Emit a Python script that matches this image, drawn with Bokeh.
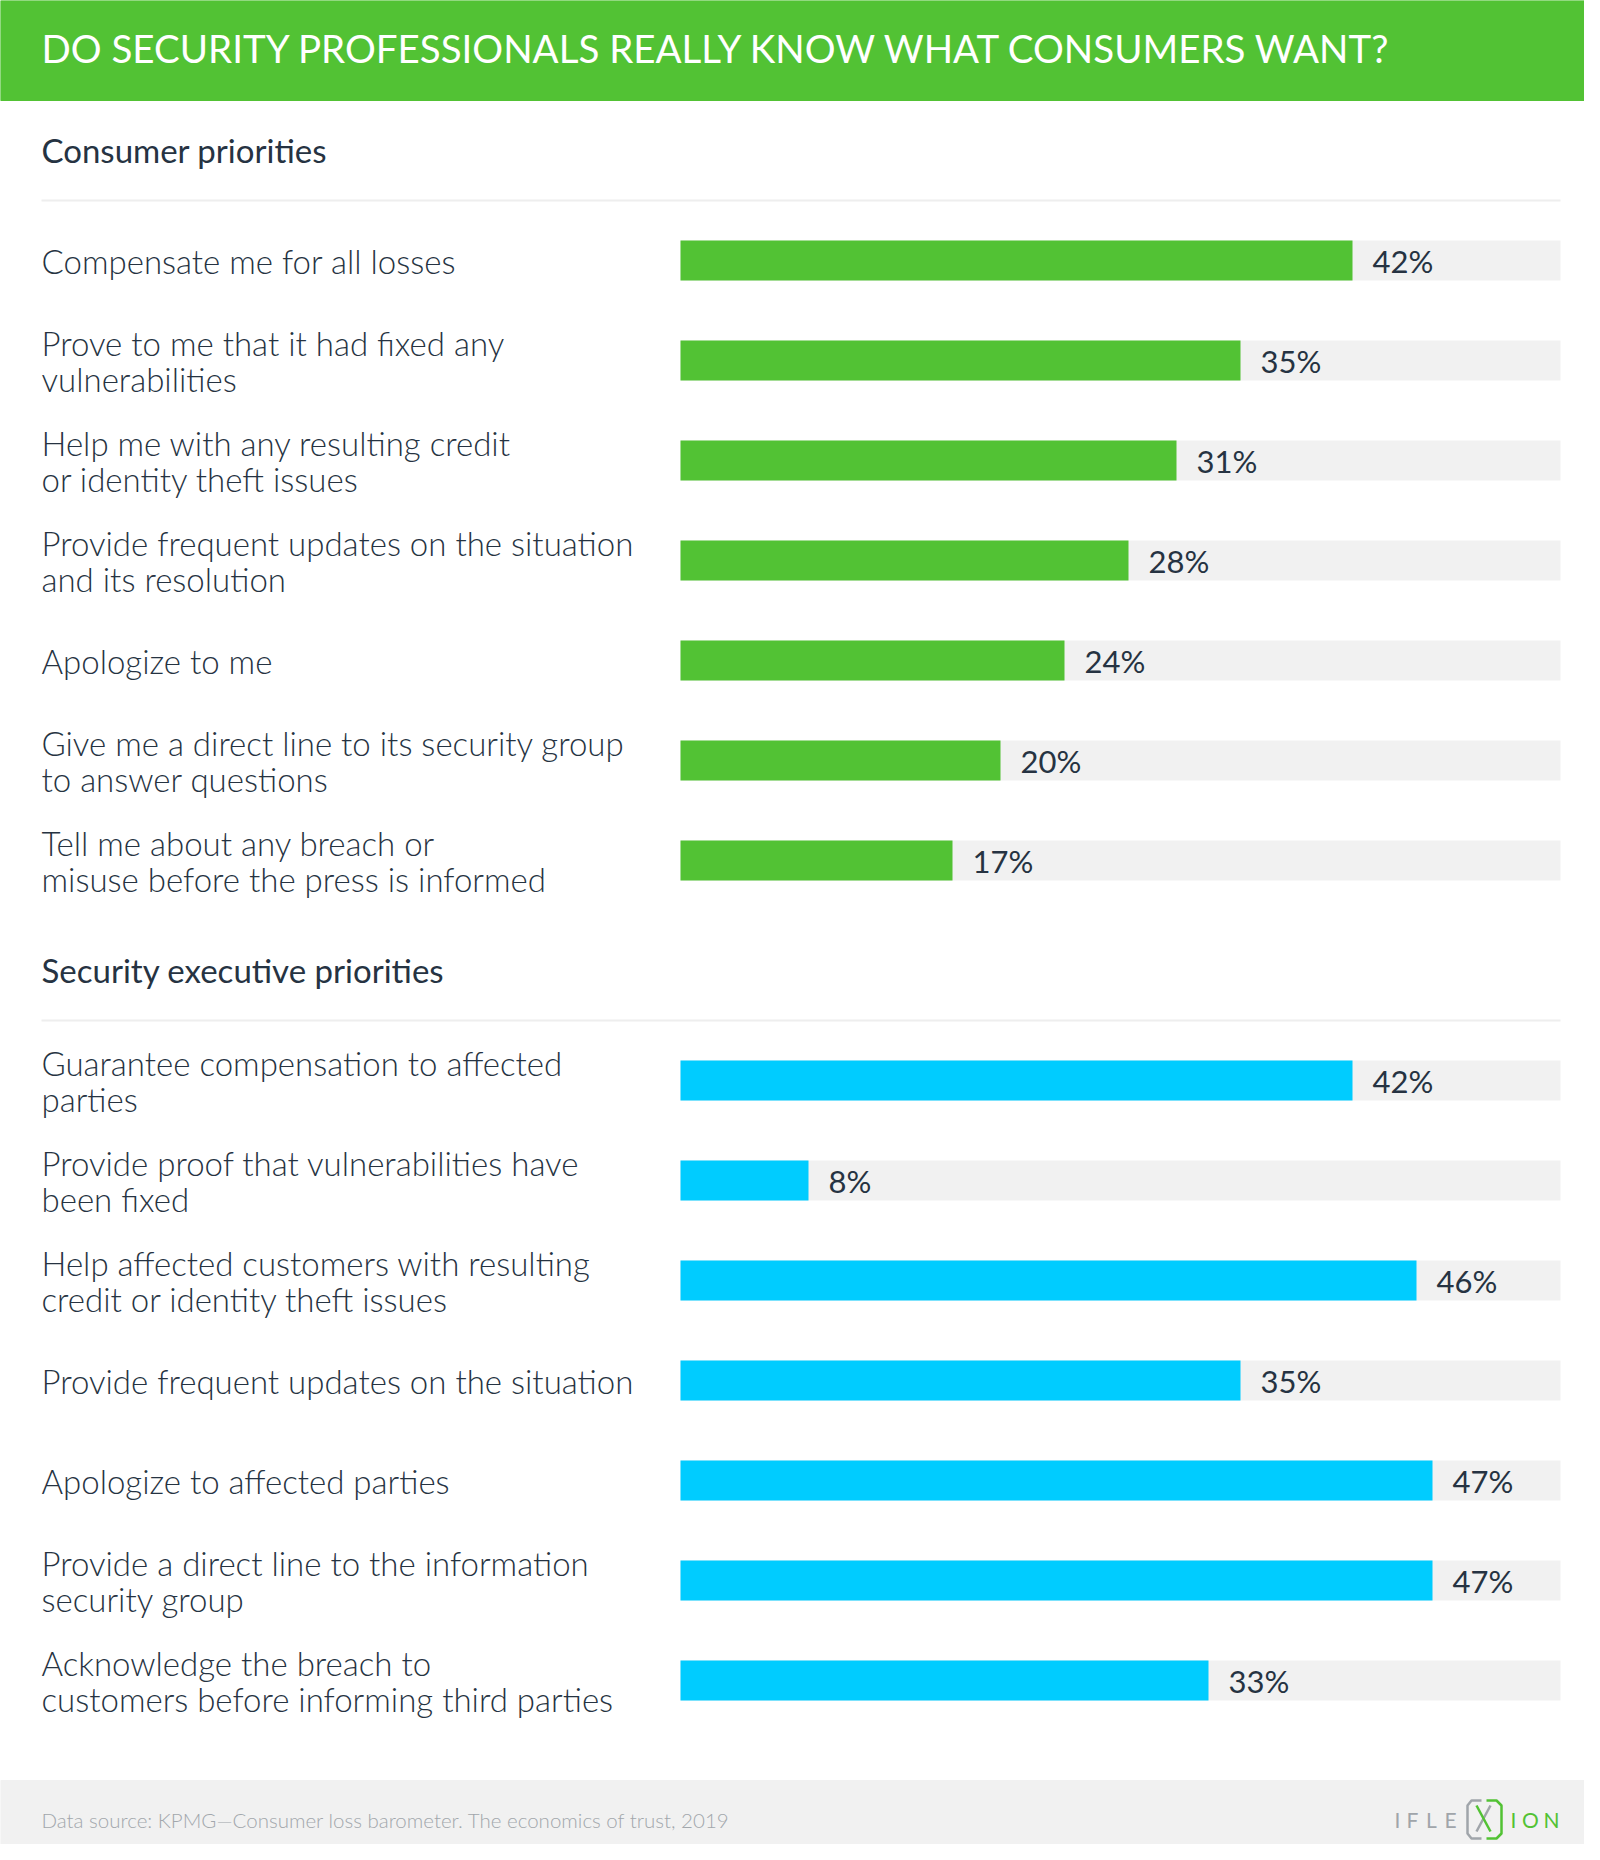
from bokeh.plotting import figure
from bokeh.models import Range1d
from bokeh.core.properties import value
from bokeh.embed import file_html
from bokeh.resources import INLINE

# ---------------- data ----------------
title = "DO SECURITY PROFESSIONALS REALLY KNOW WHAT CONSUMERS WANT?"

consumer_title = "Consumer priorities"
consumer_labels = [
    "Compensate me for all losses",
    "Prove to me that it had fixed any\nvulnerabilities",
    "Help me with any resulting credit\nor identity theft issues",
    "Provide frequent updates on the situation\nand its resolution",
    "Apologize to me",
    "Give me a direct line to its security group\nto answer questions",
    "Tell me about any breach or\nmisuse before the press is informed",
]
consumer_values = [42, 35, 31, 28, 24, 20, 17]

exec_title = "Security executive priorities"
exec_labels = [
    "Guarantee compensation to affected\nparties",
    "Provide proof that vulnerabilities have\nbeen fixed",
    "Help affected customers with resulting\ncredit or identity theft issues",
    "Provide frequent updates on the situation",
    "Apologize to affected parties",
    "Provide a direct line to the information\nsecurity group",
    "Acknowledge the breach to\ncustomers before informing third parties",
]
exec_values = [42, 8, 46, 35, 47, 47, 33]

scale_max = 55
source_note = "Data source: KPMG\u2014Consumer loss barometer. The economics of trust, 2019"
logo_left = "IFLE"
logo_right = "ION"

# ---------------- style ----------------
GREEN = "#52C234"
BLUE = "#00CCFF"
TRACK = "#F1F1F1"
TEXT = "#263342"
SEP = "#EEEEEE"
FOOT_BG = "#F1F1F1"
FOOT_TXT = "#A2A7AC"
LOGO_GRAY = "#A0A5AA"
FONT = "Lato"
LIGHT_FONT = "Lato Light"

W, H = 1584, 1844

p = figure(width=W, height=H,
           x_range=Range1d(-42.5, 56.5),   # percent scale: 0% at px 680, 16px per %
           y_range=Range1d(1844, 0),       # pixels, top to bottom
           output_backend="svg", toolbar_location=None,
           x_axis_location=None, y_axis_location=None,
           min_border=0, outline_line_color=None,
           background_fill_color="white", border_fill_color="white")
p.grid.visible = False
p.extra_x_ranges = {"px": Range1d(0, 1584)}

# header band
p.quad(left=[0], right=[1600], top=[0], bottom=[100], color=GREEN, x_range_name="px")
p.text(x=[41], y=[47], text=[title], x_range_name="px",
       text_font=value(FONT), text_font_size="38.5px", text_color="white",
       text_baseline="middle", text_align="left")

# footer band
p.quad(left=[0], right=[1600], top=[1780], bottom=[1860], color=FOOT_BG, x_range_name="px")
p.text(x=[41], y=[1819], text=[source_note], x_range_name="px",
       text_font=value(LIGHT_FONT), text_font_size="20.5px", text_color=FOOT_TXT,
       text_baseline="middle", text_align="left")


def section(head, labels, values, color, top):
    # section header and separator
    p.text(x=[41], y=[top - 71], text=[head], x_range_name="px",
           text_font=value(FONT), text_font_size="33px", text_color=TEXT,
           text_baseline="middle", text_align="left")
    p.line(x=[41, 1560], y=[top - 20, top - 20], x_range_name="px",
           line_color=SEP, line_width=2)
    ys = [top + 40 + 100 * i for i in range(len(values))]
    p.hbar(y=ys, left=0, right=[scale_max] * len(values), height=40,
           fill_color=TRACK, line_color=None)
    p.hbar(y=ys, left=0, right=values, height=40, fill_color=color, line_color=None)
    p.text(x=values, y=ys, text=[f"{v}%" for v in values], x_offset=20,
           text_font=value(FONT), text_font_size="31px", text_color=TEXT,
           text_baseline="middle", text_align="left")
    p.text(x=[41] * len(labels), y=ys, text=labels, x_range_name="px",
           text_font=value(LIGHT_FONT), text_font_size="33px", text_color=TEXT,
           text_baseline="middle", text_align="left", text_line_height=0.9)


section(consumer_title, consumer_labels, consumer_values, GREEN, 220)
section(exec_title, exec_labels, exec_values, BLUE, 1040)

# logo
left_x = [1397, 1412, 1431, 1450]
right_x = [1513, 1530, 1551]
p.text(x=left_x, y=[1819] * 4, text=list(logo_left), x_range_name="px",
       text_font=value(FONT), text_font_size="21px", text_color=LOGO_GRAY,
       text_baseline="middle", text_align="center")
p.text(x=right_x, y=[1819] * 3, text=list(logo_right), x_range_name="px",
       text_font=value(FONT), text_font_size="21px", text_color=GREEN,
       text_baseline="middle", text_align="center")
p.line(x=[1481, 1471, 1467, 1467, 1471, 1481], y=[1800, 1800, 1805, 1833, 1838, 1838],
       x_range_name="px", line_color=LOGO_GRAY, line_width=2.5)
p.line(x=[1486, 1496, 1501, 1501, 1496, 1486], y=[1800, 1800, 1805, 1833, 1838, 1838],
       x_range_name="px", line_color=GREEN, line_width=2.5)
p.line(x=[1490, 1476], y=[1805, 1831], x_range_name="px", line_color=LOGO_GRAY, line_width=2.5)
p.line(x=[1476, 1490], y=[1805, 1831], x_range_name="px", line_color=GREEN, line_width=2.5)

open("out.html", "w").write(file_html(p, INLINE))
